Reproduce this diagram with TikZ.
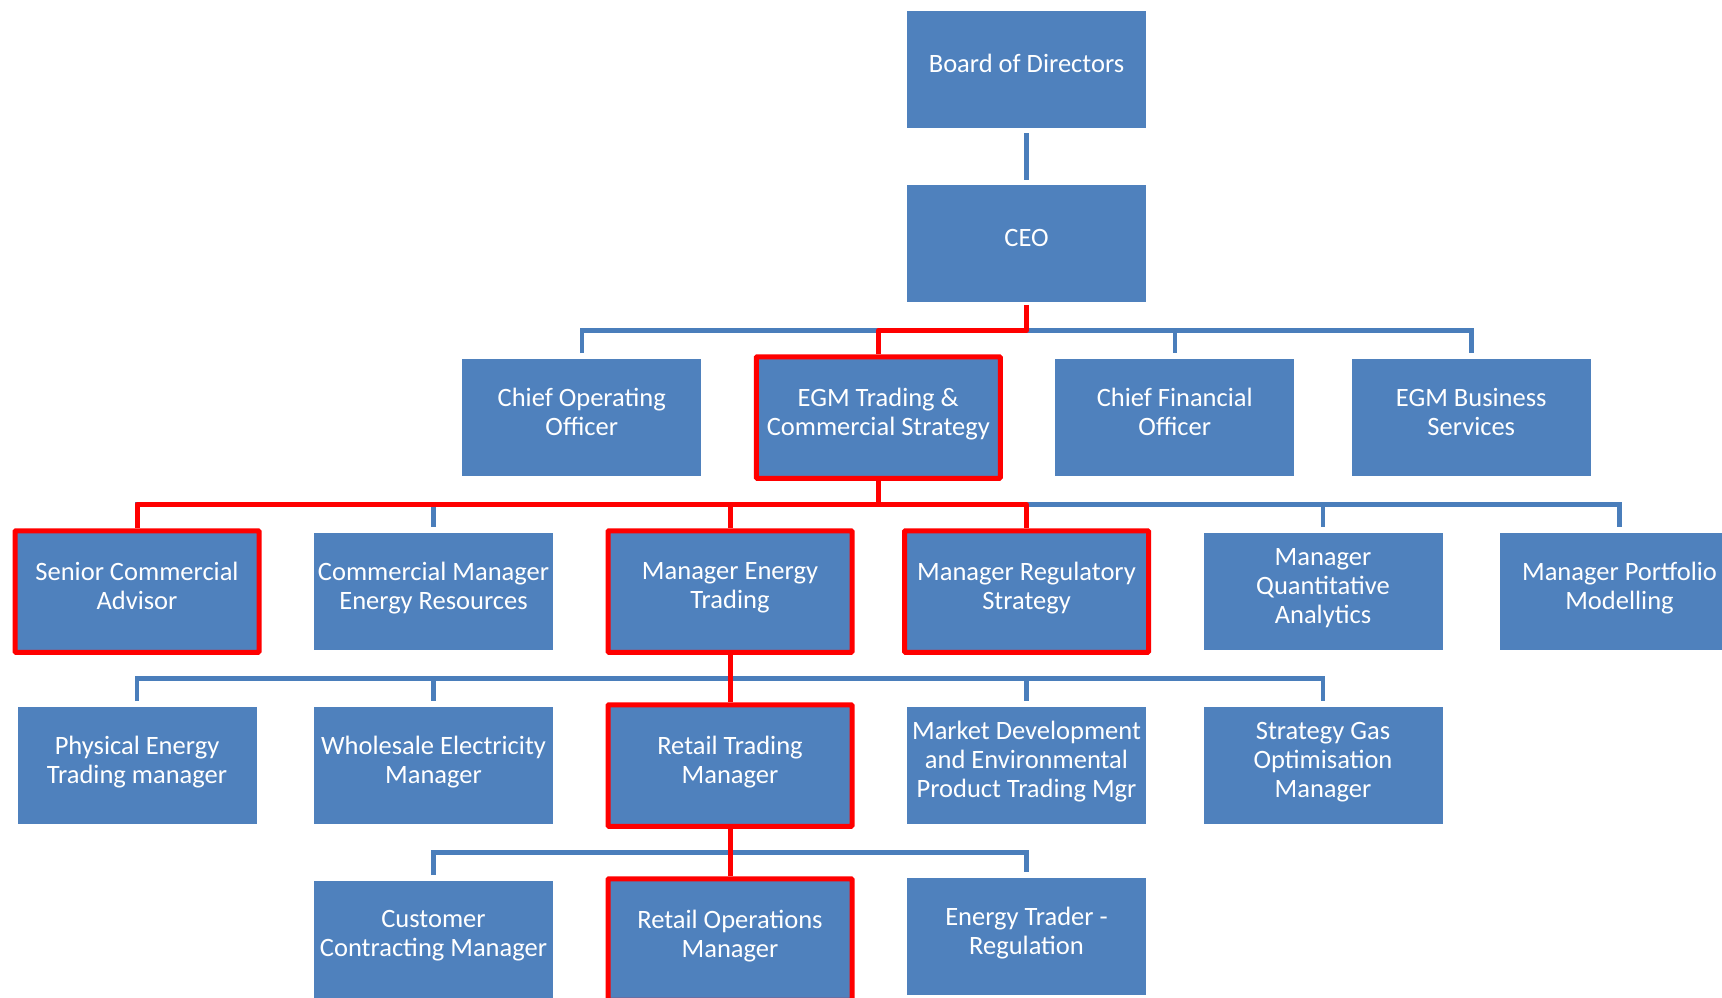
\documentclass[tikz,border=0pt]{standalone}
\usepackage{fontspec}
\setmainfont{Carlito}
\definecolor{unitblue}{HTML}{4F81BD}
\definecolor{lineblue}{HTML}{4A7EBB}
\definecolor{keyred}{HTML}{FF0000}
\tikzset{
  unit/.style={fill=unitblue, minimum width=239pt, minimum height=116.5pt, inner sep=0pt},
  keyunit/.style={unit, draw=keyred, line width=5pt, minimum width=244pt, minimum height=121.5pt, rounded corners=1pt},
  unitname/.style={text=white, align=center, font=\fontsize{26.5}{29}\selectfont, text depth=0pt, yshift=6pt, inner sep=0pt},
  link/.style={draw=lineblue, line width=4.5pt},
  keylink/.style={draw=keyred, line width=5pt, line join=round},
}
\begin{document}
\begin{tikzpicture}[x=1pt,y=-1pt]
	\useasboundingbox (0,0) rectangle (1722,997);
	% top
	\node[unit] (board) at (1026.5,69.5) {};
	\node[unitname] (board-t) at (board) {Board of Directors};
	\node[unit] (ceo) at (1026.5,243.5) {};
	\node[unitname] (ceo-t) at (ceo) {CEO};
	% executives
	\node[unit] (coo) at (581.75,417.5) {};
	\node[unitname] (coo-t) at (coo) {Chief Operating\\Officer};
	\node[keyunit] (egm) at (878.25,417.5) {};
	\node[unitname] (egm-t) at (egm) {EGM Trading \&\\Commercial Strategy};
	\node[unit] (cfo) at (1174.75,417.5) {};
	\node[unitname] (cfo-t) at (cfo) {Chief Financial\\Officer};
	\node[unit] (ebs) at (1471.25,417.5) {};
	\node[unitname] (ebs-t) at (ebs) {EGM Business\\Services};
	% managers
	\node[keyunit] (sca) at (137,591.5) {};
	\node[unitname] (sca-t) at (sca) {Senior Commercial\\Advisor};
	\node[unit] (cme) at (433.5,591.5) {};
	\node[unitname] (cme-t) at (cme) {Commercial Manager\\Energy Resources};
	\node[keyunit] (met) at (730,591.5) {};
	\node[unitname] (met-t) at (met) {Manager Energy\\Trading};
	\node[keyunit] (mrs) at (1026.5,591.5) {};
	\node[unitname] (mrs-t) at (mrs) {Manager Regulatory\\Strategy};
	\node[unit] (mqa) at (1323,591.5) {};
	\node[unitname] (mqa-t) at (mqa) {Manager\\Quantitative\\Analytics};
	\node[unit] (mpm) at (1619.5,591.5) {};
	\node[unitname] (mpm-t) at (mpm) {Manager Portfolio\\Modelling};
	% trading
	\node[unit] (pet) at (137,765.5) {};
	\node[unitname] (pet-t) at (pet) {Physical Energy\\Trading manager};
	\node[unit] (wem) at (433.5,765.5) {};
	\node[unitname] (wem-t) at (wem) {Wholesale Electricity\\Manager};
	\node[keyunit] (rtm) at (730,765.5) {};
	\node[unitname] (rtm-t) at (rtm) {Retail Trading\\Manager};
	\node[unit] (mde) at (1026.5,765.5) {};
	\node[unitname] (mde-t) at (mde) {Market Development\\and Environmental\\Product Trading Mgr};
	\node[unit] (sgo) at (1323,765.5) {};
	\node[unitname] (sgo-t) at (sgo) {Strategy Gas\\Optimisation\\Manager};
	% retail
	\node[unit] (ccm) at (433.5,939.5) {};
	\node[unitname] (ccm-t) at (ccm) {Customer\\Contracting Manager};
	\node[keyunit] (rom) at (730,939.5) {};
	\node[unitname] (rom-t) at (rom) {Retail Operations\\Manager};
	\node[unit] (etr) at (1026.5,936.5) {};
	\node[unitname] (etr-t) at (etr) {Energy Trader -\\Regulation};
	% buses
	\coordinate (bus1) at (0,330.5);
	\coordinate (bus2) at (0,504.5);
	\coordinate (bus3) at (0,678.5);
	\coordinate (bus4) at (0,852.5);
	% blue links
	\draw[link, shorten <=5.5pt, shorten >=5.5pt] (board) -- (ceo);
	\draw[link] ([yshift=6pt]coo.north) -- (coo |- bus1) -- (ebs |- bus1) -- ([yshift=6pt]ebs.north);
	\draw[link] (cfo |- bus1) -- ([yshift=6pt]cfo.north);
	\draw[link] ([yshift=6pt]sca.north) -- (sca |- bus2) -- (mpm |- bus2) -- ([yshift=6pt]mpm.north);
	\draw[link] (cme |- bus2) -- ([yshift=6pt]cme.north);
	\draw[link] (mqa |- bus2) -- ([yshift=6pt]mqa.north);
	\draw[link] ([yshift=6pt]pet.north) -- (pet |- bus3) -- (sgo |- bus3) -- ([yshift=6pt]sgo.north);
	\draw[link] (wem |- bus3) -- ([yshift=6pt]wem.north);
	\draw[link] (mde |- bus3) -- ([yshift=6pt]mde.north);
	\draw[link] ([yshift=6pt]ccm.north) -- (ccm |- bus4) -- (etr |- bus4) -- ([yshift=6pt]etr.north);
	% red reporting line
	\draw[keylink] ([yshift=-3pt]ceo.south) -- (ceo |- bus1) -- (egm |- bus1) -- (egm.north);
	\draw[keylink] (egm.south) -- (egm |- bus2);
	\draw[keylink] (sca.north) -- (sca |- bus2) -- (mrs |- bus2) -- (mrs.north);
	\draw[keylink] (met |- bus2) -- (met.north);
	\draw[keylink] (met.south) -- (rtm.north);
	\draw[keylink] (rtm.south) -- (rom.north);
\end{tikzpicture}
\end{document}
